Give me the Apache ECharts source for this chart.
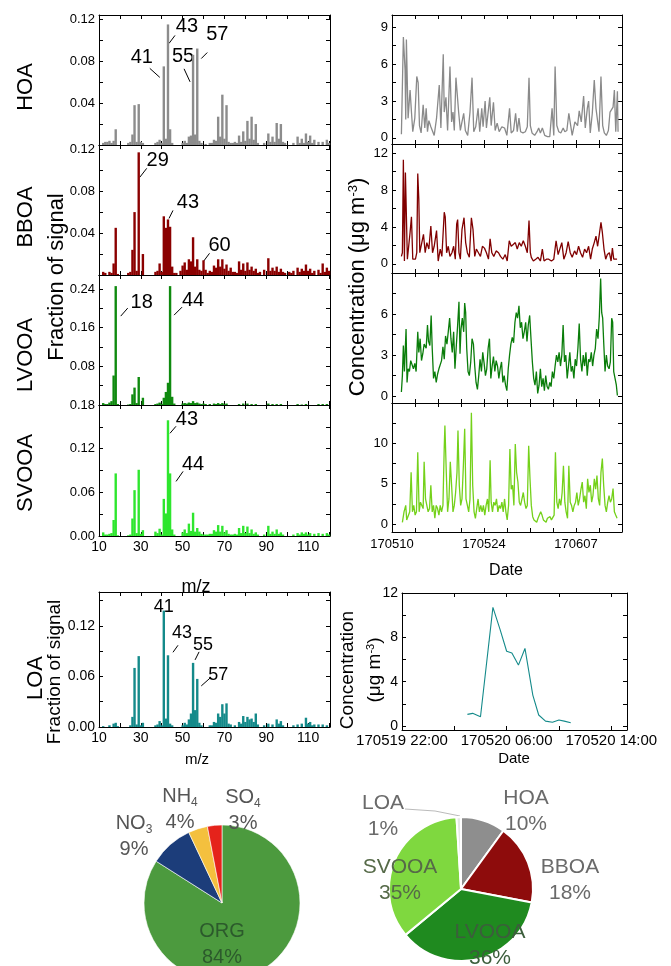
<!DOCTYPE html>
<html><head><meta charset="utf-8">
<script src="https://cdn.jsdelivr.net/npm/echarts@6/dist/echarts.min.js"></script>
<style>html,body{margin:0;padding:0;background:#fff}#c{width:671px;height:966px}</style>
</head><body><div id="c"></div>
<script>
// ---------- DATA ----------
const hoaSpec = [[12,0.002],[13,0.003],[14,0.003],[15,0.004],[16,0.002],[17,0.004],[18,0.015],[24,0.002],[25,0.003],[26,0.010],[27,0.038],[28,0.003],[29,0.039],[30,0.003],[31,0.002],[37,0.002],[38,0.003],[39,0.005],[40,0.002],[41,0.075],[42,0.006],[43,0.115],[44,0.015],[45,0.002],[50,0.002],[51,0.004],[52,0.002],[53,0.008],[54,0.009],[55,0.086],[56,0.010],[57,0.092],[58,0.004],[59,0.002],[61,0.001],[63,0.002],[64,0.002],[65,0.005],[66,0.004],[67,0.027],[68,0.008],[69,0.048],[70,0.006],[71,0.038],[72,0.003],[73,0.002],[74,0.002],[75,0.003],[76,0.002],[77,0.009],[78,0.003],[79,0.013],[80,0.004],[81,0.023],[82,0.006],[83,0.027],[84,0.005],[85,0.020],[86,0.002],[89,0.002],[91,0.011],[92,0.003],[93,0.008],[94,0.003],[95,0.021],[96,0.006],[97,0.020],[98,0.003],[99,0.002],[103,0.002],[105,0.008],[106,0.002],[107,0.006],[108,0.002],[109,0.011],[110,0.003],[111,0.009],[112,0.002],[113,0.005],[115,0.003],[117,0.003],[119,0.005],[120,0.002]];
const bboaSpec = [[12,0.003],[13,0.002],[15,0.003],[16,0.002],[17,0.011],[18,0.045],[19,0.001],[24,0.002],[25,0.003],[26,0.024],[27,0.060],[28,0.004],[29,0.117],[31,0.020],[37,0.003],[38,0.004],[39,0.011],[40,0.003],[41,0.056],[42,0.045],[43,0.053],[44,0.046],[45,0.008],[46,0.002],[47,0.002],[49,0.004],[50,0.009],[51,0.012],[52,0.005],[53,0.015],[54,0.013],[55,0.036],[56,0.008],[57,0.015],[58,0.005],[59,0.004],[60,0.014],[61,0.005],[62,0.002],[63,0.004],[64,0.003],[65,0.009],[66,0.007],[67,0.015],[68,0.008],[69,0.015],[70,0.006],[71,0.010],[72,0.004],[73,0.007],[74,0.003],[75,0.003],[76,0.002],[77,0.013],[78,0.005],[79,0.011],[80,0.004],[81,0.012],[82,0.005],[83,0.008],[84,0.004],[85,0.006],[86,0.002],[87,0.003],[89,0.005],[91,0.016],[92,0.004],[93,0.007],[94,0.004],[95,0.008],[96,0.003],[97,0.006],[98,0.003],[99,0.002],[101,0.003],[102,0.002],[103,0.004],[105,0.007],[106,0.003],[107,0.006],[108,0.004],[109,0.010],[110,0.004],[111,0.006],[112,0.002],[113,0.004],[115,0.005],[116,0.002],[117,0.011],[118,0.003],[119,0.007],[120,0.004]];
const lvooaSpec = [[12,0.004],[13,0.002],[14,0.002],[15,0.005],[16,0.008],[17,0.061],[18,0.246],[19,0.002],[24,0.001],[25,0.002],[26,0.022],[27,0.036],[28,0.004],[29,0.058],[31,0.015],[37,0.002],[38,0.003],[39,0.005],[40,0.002],[41,0.015],[42,0.027],[43,0.046],[44,0.246],[45,0.017],[46,0.003],[50,0.003],[51,0.004],[52,0.003],[53,0.005],[54,0.004],[55,0.008],[56,0.004],[57,0.005],[58,0.003],[59,0.002],[60,0.003],[61,0.002],[63,0.002],[65,0.003],[66,0.002],[67,0.004],[68,0.002],[69,0.004],[70,0.002],[71,0.003],[77,0.002],[79,0.003],[81,0.003],[83,0.002],[85,0.002],[91,0.003],[93,0.002],[95,0.002],[97,0.002],[105,0.002],[107,0.001],[109,0.002],[115,0.002],[117,0.002],[119,0.002]];
const svooaSpec = [[12,0.005],[13,0.002],[14,0.002],[15,0.003],[16,0.004],[17,0.022],[18,0.086],[19,0.001],[24,0.001],[25,0.002],[26,0.024],[27,0.063],[28,0.004],[29,0.091],[30,0.003],[31,0.008],[37,0.006],[38,0.004],[39,0.010],[40,0.002],[41,0.051],[42,0.031],[43,0.159],[44,0.086],[45,0.009],[46,0.002],[50,0.005],[51,0.009],[52,0.004],[53,0.017],[54,0.007],[55,0.032],[56,0.006],[57,0.011],[58,0.006],[59,0.003],[60,0.002],[61,0.002],[62,0.002],[63,0.003],[64,0.003],[65,0.008],[66,0.006],[67,0.015],[68,0.006],[69,0.014],[70,0.005],[71,0.008],[72,0.003],[73,0.002],[74,0.002],[75,0.003],[76,0.002],[77,0.011],[78,0.004],[79,0.014],[80,0.004],[81,0.013],[82,0.004],[83,0.009],[84,0.003],[85,0.005],[86,0.002],[89,0.002],[91,0.014],[92,0.003],[93,0.006],[94,0.003],[95,0.009],[96,0.003],[97,0.005],[98,0.002],[103,0.002],[105,0.004],[106,0.002],[107,0.005],[108,0.003],[109,0.005],[110,0.002],[111,0.004],[113,0.003],[115,0.004],[117,0.003],[119,0.004],[120,0.002]];
const loaSpec = [[12,0.001],[15,0.002],[17,0.004],[18,0.005],[19,0.001],[25,0.002],[26,0.012],[27,0.070],[28,0.003],[29,0.084],[30,0.002],[31,0.005],[37,0.002],[38,0.003],[39,0.007],[40,0.002],[41,0.138],[42,0.010],[43,0.085],[44,0.004],[45,0.002],[50,0.002],[51,0.005],[52,0.003],[53,0.009],[54,0.016],[55,0.076],[56,0.020],[57,0.057],[58,0.005],[59,0.002],[63,0.002],[64,0.002],[65,0.006],[66,0.005],[67,0.016],[68,0.012],[69,0.027],[70,0.016],[71,0.028],[72,0.004],[73,0.003],[75,0.002],[77,0.006],[78,0.004],[79,0.013],[80,0.006],[81,0.012],[82,0.009],[83,0.010],[84,0.006],[85,0.016],[86,0.003],[89,0.002],[91,0.004],[93,0.003],[95,0.009],[96,0.004],[97,0.007],[98,0.002],[103,0.002],[105,0.003],[107,0.004],[109,0.011],[110,0.004],[111,0.006],[112,0.002],[113,0.003],[115,0.003],[117,0.003],[119,0.002]];

// labelled peaks (m/z) per spectrum
const hoaPeaks = [41,43,55,57];
const bboaPeaks = [29,43,60];
const lvooaPeaks = [18,44];
const svooaPeaks = [43,44];
const loaPeaks = [41,43,55,57];

// time series: [days since 170510, ug m-3]
const hoaTs = [[1.43,0.3],[1.73,8.2],[1.99,5.5],[2.09,1.5],[2.19,8.0],[2.45,1.6],[2.75,3.9],[2.96,2.1],[3.16,0.5],[3.47,1.6],[3.77,5.0],[3.98,4.5],[4.18,1.0],[4.43,0.4],[4.74,2.7],[4.99,0.8],[5.20,2.4],[5.40,0.5],[5.61,1.4],[5.91,0.9],[6.12,1.0],[6.42,0.2],[6.78,1.6],[7.19,4.3],[7.44,0.8],[7.80,6.8],[7.95,2.1],[8.21,3.3],[8.46,0.6],[8.82,5.8],[9.07,1.3],[9.28,2.1],[9.48,0.6],[9.73,4.9],[9.94,5.0],[10.14,2.1],[10.40,0.6],[10.65,1.3],[10.91,2.0],[11.16,0.6],[11.52,0.2],[11.87,2.1],[12.18,4.9],[12.44,0.5],[12.74,0.9],[13.10,2.4],[13.35,0.5],[13.66,2.4],[13.86,0.9],[14.17,3.0],[14.37,0.8],[14.63,2.1],[14.88,3.3],[15.09,1.0],[15.44,2.9],[15.70,0.6],[16.00,1.2],[16.31,0.5],[16.72,0.9],[17.13,0.8],[17.48,0.2],[17.89,2.4],[18.14,0.4],[18.50,0.6],[18.81,2.0],[19.06,0.5],[19.32,1.6],[19.57,0.5],[19.93,0.4],[20.29,0.5],[20.59,0.9],[20.85,4.9],[21.05,1.0],[21.31,0.4],[21.71,0.2],[22.07,0.5],[22.32,0.8],[22.58,0.4],[22.88,0.8],[23.24,0.2],[23.65,0.1],[24.01,0.1],[24.36,2.4],[24.62,0.2],[24.82,5.8],[25.08,1.0],[25.38,0.5],[25.69,0.4],[26.05,0.8],[26.30,0.5],[26.61,0.6],[26.91,2.0],[27.17,2.1],[27.42,0.2],[27.83,1.3],[28.24,1.0],[28.49,2.2],[28.80,1.3],[29.16,3.4],[29.41,0.8],[29.72,2.4],[29.92,3.0],[30.17,0.4],[30.48,2.0],[30.78,4.7],[31.04,2.4],[31.29,2.5],[31.50,0.5],[31.80,5.0],[32.06,1.0],[32.31,0.4],[32.62,0.2],[32.93,0.6],[33.18,2.1],[33.43,2.2],[33.64,2.5],[33.84,3.9],[34.05,0.5],[34.30,3.8],[34.40,0.5]];
const bboaTs = [[1.43,0.8],[1.58,1.2],[1.73,11.3],[1.89,0.3],[2.04,9.9],[2.19,9.9],[2.34,0.5],[2.55,0.7],[2.75,3.4],[2.96,5.1],[3.16,0.5],[3.36,0.6],[3.57,0.5],[3.77,1.2],[3.92,9.8],[4.08,7.0],[4.23,1.2],[4.49,1.4],[4.79,3.2],[5.05,1.2],[5.30,2.3],[5.61,1.6],[5.91,4.1],[6.17,1.2],[6.42,1.9],[6.78,3.6],[7.03,0.3],[7.34,1.6],[7.59,0.8],[7.95,5.6],[8.10,5.1],[8.31,1.2],[8.56,1.9],[8.82,0.8],[9.12,1.2],[9.38,1.9],[9.63,0.5],[9.84,4.3],[9.99,4.8],[10.19,1.2],[10.40,0.5],[10.65,3.7],[10.96,5.0],[11.21,2.3],[11.47,1.2],[11.77,0.7],[12.08,5.0],[12.33,3.7],[12.59,0.8],[12.84,1.6],[13.15,1.2],[13.46,0.8],[13.76,1.9],[14.07,1.7],[14.37,1.2],[14.68,0.5],[14.93,2.7],[15.19,1.2],[15.49,0.8],[15.85,1.4],[16.21,1.2],[16.51,0.8],[16.87,0.5],[17.23,1.0],[17.53,0.3],[17.84,2.5],[18.14,1.9],[18.45,2.1],[18.76,2.3],[19.06,1.6],[19.37,2.3],[19.67,1.9],[19.98,2.5],[20.29,1.9],[20.59,1.2],[20.85,4.7],[21.05,1.2],[21.20,0.7],[21.51,0.3],[21.87,0.5],[22.22,0.7],[22.58,0.3],[22.88,1.6],[23.14,0.3],[23.50,0.5],[23.85,0.5],[24.26,0.3],[24.62,0.5],[24.97,2.5],[25.28,1.0],[25.54,0.8],[25.84,2.3],[26.15,0.5],[26.50,1.2],[26.81,2.4],[27.12,1.2],[27.42,0.7],[27.78,1.4],[28.08,1.0],[28.39,1.9],[28.69,1.2],[29.00,0.7],[29.31,1.6],[29.61,1.2],[29.92,1.9],[30.22,0.5],[30.48,1.6],[30.78,2.3],[31.04,3.0],[31.29,1.9],[31.55,3.2],[31.80,4.5],[32.01,3.4],[32.26,1.6],[32.52,0.5],[32.77,1.0],[33.08,1.2],[33.34,0.3],[33.54,1.7],[33.74,0.5],[34.00,0.7],[34.25,0.5]];
const lvooaTs = [[1.43,0.3],[1.58,1.5],[1.73,3.7],[1.89,1.8],[2.14,4.9],[2.29,1.0],[2.45,2.0],[2.65,1.8],[2.85,2.6],[3.06,2.5],[3.26,2.0],[3.47,2.4],[3.67,1.8],[3.92,4.7],[4.08,3.2],[4.28,4.2],[4.49,2.6],[4.69,3.1],[4.89,3.8],[5.20,3.5],[5.40,5.2],[5.56,4.0],[5.76,3.7],[5.96,5.9],[6.12,3.5],[6.32,1.3],[6.52,1.8],[6.73,1.0],[6.93,1.6],[7.14,2.0],[7.34,1.9],[7.54,2.6],[7.75,3.6],[7.95,2.7],[8.15,4.4],[8.36,3.8],[8.56,4.7],[8.77,5.7],[8.97,4.2],[9.17,3.2],[9.38,4.7],[9.58,2.0],[9.79,3.7],[9.99,5.2],[10.19,6.9],[10.35,3.1],[10.50,4.9],[10.70,5.7],[10.91,4.7],[11.06,6.8],[11.21,6.1],[11.37,3.5],[11.57,1.8],[11.77,1.5],[11.98,2.5],[12.18,4.2],[12.39,3.8],[12.59,2.2],[12.79,1.0],[13.00,0.5],[13.20,1.5],[13.40,2.7],[13.61,1.8],[13.81,3.2],[14.02,2.4],[14.22,1.5],[14.42,2.0],[14.63,3.5],[14.83,4.2],[15.04,1.3],[15.24,2.2],[15.44,2.9],[15.65,1.8],[15.85,2.6],[16.06,2.2],[16.26,1.3],[16.46,2.0],[16.67,2.5],[16.87,1.0],[17.07,1.5],[17.28,0.8],[17.48,0.4],[17.69,2.0],[17.89,3.0],[18.09,3.8],[18.30,4.3],[18.50,3.9],[18.71,5.4],[18.91,6.1],[19.11,5.7],[19.32,6.6],[19.52,5.0],[19.72,5.4],[19.93,4.2],[20.13,4.7],[20.34,5.4],[20.54,4.0],[20.74,5.2],[20.95,5.9],[21.15,4.2],[21.36,2.5],[21.56,1.3],[21.76,0.8],[21.97,1.8],[22.17,0.2],[22.38,0.8],[22.58,2.0],[22.78,0.7],[22.99,1.3],[23.19,0.4],[23.39,1.5],[23.60,0.7],[23.80,0.5],[24.01,1.0],[24.21,0.7],[24.41,1.8],[24.62,1.3],[24.82,2.2],[25.03,3.0],[25.23,2.5],[25.43,3.2],[25.64,2.2],[25.84,3.0],[26.04,5.2],[26.25,2.5],[26.45,3.0],[26.66,1.3],[26.86,2.2],[27.06,3.2],[27.27,1.8],[27.47,2.2],[27.68,1.3],[27.88,2.7],[28.08,2.2],[28.29,3.5],[28.49,5.3],[28.69,2.7],[28.90,1.8],[29.10,3.0],[29.31,2.2],[29.51,3.2],[29.71,1.5],[29.92,2.7],[30.12,2.5],[30.33,3.2],[30.53,2.2],[30.73,3.0],[30.94,3.5],[31.14,4.9],[31.35,4.2],[31.55,5.8],[31.75,8.6],[31.91,6.1],[32.06,5.7],[32.21,4.0],[32.42,1.8],[32.62,3.0],[32.82,2.2],[33.03,2.0],[33.23,2.5],[33.43,5.7],[33.58,5.4],[33.74,1.8],[33.94,1.3],[34.14,0.8],[34.30,0.05]];
const svooaTs = [[1.58,0.2],[1.83,1.5],[2.09,2.3],[2.24,0.5],[2.45,0.7],[2.70,1.5],[2.91,6.4],[3.11,1.5],[3.31,2.3],[3.52,1.1],[3.72,1.5],[3.92,8.9],[4.13,1.5],[4.33,2.7],[4.54,2.3],[4.74,1.9],[4.89,7.7],[5.10,3.1],[5.30,2.3],[5.50,1.5],[5.71,1.9],[5.91,4.8],[6.12,1.5],[6.32,2.3],[6.52,0.7],[6.73,2.3],[6.93,1.9],[7.14,1.1],[7.34,2.3],[7.54,1.5],[7.75,2.3],[7.95,9.5],[8.05,12.2],[8.26,6.4],[8.46,1.5],[8.67,3.1],[8.87,7.7],[9.07,4.8],[9.28,1.5],[9.48,2.3],[9.68,3.9],[9.89,6.4],[10.04,11.6],[10.24,4.8],[10.45,2.3],[10.65,3.1],[10.86,7.2],[11.06,11.8],[11.26,3.1],[11.47,2.3],[11.67,1.5],[11.87,3.1],[12.08,13.8],[12.28,4.8],[12.49,1.5],[12.69,0.7],[12.89,1.9],[13.10,3.1],[13.30,1.5],[13.51,2.3],[13.71,1.5],[13.91,2.3],[14.12,1.1],[14.32,2.3],[14.53,3.1],[14.73,1.5],[14.93,7.9],[15.09,2.7],[15.29,1.5],[15.49,2.7],[15.70,2.3],[15.90,3.1],[16.11,1.5],[16.31,2.3],[16.51,1.9],[16.72,2.7],[16.92,1.5],[17.13,3.1],[17.33,1.5],[17.53,0.5],[17.74,2.3],[17.94,9.3],[18.14,4.3],[18.35,4.8],[18.55,2.3],[18.76,9.9],[18.96,6.4],[19.16,5.2],[19.37,2.7],[19.57,2.3],[19.78,2.3],[19.98,3.9],[20.18,2.7],[20.39,1.9],[20.59,2.3],[20.80,9.7],[21.00,5.6],[21.20,2.3],[21.41,0.9],[21.61,0.5],[21.81,0.7],[22.02,0.2],[22.22,0.7],[22.43,0.5],[22.63,1.5],[22.83,1.1],[23.04,0.5],[23.24,0.7],[23.45,0.2],[23.65,0.7],[23.85,0.5],[24.06,0.9],[24.26,0.5],[24.46,0.7],[24.67,1.1],[24.87,8.9],[25.08,2.7],[25.28,1.9],[25.48,3.1],[25.69,2.3],[25.89,3.9],[26.09,7.2],[26.30,2.7],[26.50,1.5],[26.71,0.7],[26.91,7.2],[27.12,2.7],[27.32,2.3],[27.52,1.5],[27.73,2.3],[27.93,2.7],[28.13,3.9],[28.34,2.3],[28.54,3.1],[28.75,4.3],[28.95,5.2],[29.16,2.7],[29.36,3.5],[29.57,1.9],[29.77,5.6],[29.97,3.9],[30.18,4.8],[30.38,2.7],[30.58,3.5],[30.79,5.6],[30.99,4.3],[31.19,6.0],[31.40,3.1],[31.60,2.3],[31.80,6.4],[32.01,8.1],[32.21,4.8],[32.42,2.3],[32.62,1.5],[32.83,2.7],[33.03,3.5],[33.23,2.7],[33.43,3.1],[33.64,4.4],[33.84,1.5],[34.04,1.1],[34.25,0.7]];
// LOA: [hours since 170519 22:00, ug m-3]
const loaTs = [[5.0,1.06],[5.4,1.15],[6.0,0.85],[6.95,10.7],[7.5,8.7],[8.0,6.75],[8.4,6.6],[8.9,5.5],[9.4,7.0],[10.0,2.8],[10.45,1.0],[10.97,0.45],[11.5,0.35],[12.0,0.55],[12.4,0.45],[12.9,0.3]];

// pies
const inorgNames = ['ORG','NO3','NH4','SO4'];
const inorgPct = [84, 9, 4, 3];
const oaNames = ['HOA','BBOA','LVOOA','SVOOA','LOA'];
const oaPct = [10, 18, 36, 35, 1];

// tick values / labels
const specXTicks = [10,20,30,40,50,60,70,80,90,100,110,120];
const specXLabels = [10,30,50,70,90,110];
const tsDayTicks = [0,3.5,7,10.5,14,17.5,21,24.5,28,31.5,35];
const tsDayLabelVals = [0,14,28];
const tsDayLabelText = ['170510','170524','170607'];
const loaHourTicks = [0,4,8,12,16];
const loaHourLabelVals = [0,8,16];
const loaHourLabelText = ['170519 22:00','170520 06:00','170520 14:00'];

// ---------- BUILD ----------
const FONT = '"Liberation Sans", Arial, Helvetica, sans-serif';
const grids = [], xAxes = [], yAxes = [], series = [];

function axis(gi, pos, c, withLabels) {
  return {
    type: 'value', gridIndex: gi, position: pos, min: c.min, max: c.max,
    axisLine: { show: true, onZero: false, lineStyle: { color: '#000', width: 1 } },
    axisTick: { show: true, inside: true, length: 4, customValues: c.ticks, lineStyle: { color: '#000', width: 1 } },
    axisLabel: { show: !!(withLabels && c.labels), customValues: c.labels || [], formatter: c.fmt,
      fontSize: c.fs || 13, color: '#000', margin: c.margin == null ? 4 : c.margin, fontFamily: FONT },
    splitLine: { show: false }
  };
}
function addPanel(box, xc, yc) {
  const gi = grids.length;
  grids.push({ left: box[0], top: box[1], width: box[2], height: box[3], show: false });
  const xi = xAxes.length, yi = yAxes.length;
  xAxes.push(axis(gi, 'bottom', xc, true), axis(gi, 'top', xc, false));
  yAxes.push(axis(gi, 'left', yc, true), axis(gi, 'right', yc, false));
  return { xi, yi };
}
const f2 = v => v.toFixed(2);

// annotation offsets (px relative to the bar top): text dx,dy ; line x1,y1,x2,y2
const peakStyle = {
  hoa:   { 41: [-22,-9,-14,2,-4,11], 43: [19,2,7,11,1,19], 55: [-10,2,-9,14,-3,27], 57: [20,-14,10,4,4,10] },
  bboa:  { 29: [19,8,8,16,1,25], 43: [20,-17,5,-9,1,-1], 60: [16,-15,6,-7,0,1] },
  lvooa: { 18: [26,16,12,22,5,30], 44: [23,14,12,21,4,29] },
  svooa: { 43: [19,-1,8,6,2,13], 44: [23,-9,13,-2,6,8] },
  loa:   { 41: [0,-4], 43: [14,-22,10,-10,5,-3], 55: [10,-18,6,-11,2,-3], 57: [21,-4,13,-1,4,7] }
};

function addSpectrum(box, ymax, yTicks, yLabels, data, color, peaks, key, opts) {
  opts = opts || {};
  const p = addPanel(box,
    { min: 10, max: 120.5, ticks: specXTicks, labels: opts.xLabels ? specXLabels : null, fs: 14, margin: 4 },
    { min: 0, max: ymax, ticks: yTicks, labels: yLabels, fmt: f2, fs: opts.yfs || 13 });
  series.push({ type: 'bar', xAxisIndex: p.xi, yAxisIndex: p.yi, data: data, barWidth: 2.4,
    itemStyle: { color: color }, silent: true, animation: false });
  const lookup = {}; data.forEach(d => lookup[d[0]] = d[1]);
  const st = peakStyle[key];
  series.push({ type: 'custom', xAxisIndex: p.xi, yAxisIndex: p.yi, silent: true, animation: false, clip: false,
    data: peaks.map(m => [m, lookup[m]]),
    renderItem: (params, api) => {
      const m = api.value(0);
      const pt = api.coord([m, api.value(1)]);
      const s = st[m];
      const ch = [{ type: 'text', style: { text: String(m), x: pt[0] + s[0], y: pt[1] + s[1],
        align: 'center', verticalAlign: 'middle', fontSize: opts.pfs || 20, fontFamily: FONT, fill: '#000' } }];
      if (s.length > 2) ch.push({ type: 'line', shape: { x1: pt[0] + s[2], y1: pt[1] + s[3], x2: pt[0] + s[4], y2: pt[1] + s[5] },
        style: { stroke: '#000', lineWidth: 1 } });
      return { type: 'group', children: ch };
    } });
}

addSpectrum([99,15,231,130], 0.124, [0,0.02,0.04,0.06,0.08,0.1,0.12], [0.04,0.08,0.12], hoaSpec, '#8c8c8c', hoaPeaks, 'hoa');
addSpectrum([99,145,231,130], 0.124, [0,0.02,0.04,0.06,0.08,0.1,0.12], [0.04,0.08,0.12], bboaSpec, '#8b0000', bboaPeaks, 'bboa');
addSpectrum([99,275,231,130], 0.269, [0,0.04,0.08,0.12,0.16,0.2,0.24], [0.08,0.16,0.24], lvooaSpec, '#0f8a0f', lvooaPeaks, 'lvooa');
addSpectrum([99,405,231,131], 0.18, [0,0.03,0.06,0.09,0.12,0.15,0.18], [0,0.06,0.12,0.18], svooaSpec, '#2ee62e', svooaPeaks, 'svooa', { xLabels: true });
addSpectrum([99,592,231,135], 0.16, [0,0.03,0.06,0.09,0.12,0.15], [0,0.06,0.12], loaSpec, '#148a8a', loaPeaks, 'loa', { xLabels: true, yfs: 14, pfs: 18 });

function addTs(box, ymin, ymax, yTicks, yLabels, data, color, xLabels) {
  const p = addPanel(box,
    { min: 0, max: 35, ticks: tsDayTicks, labels: xLabels ? tsDayLabelVals : null,
      fmt: v => tsDayLabelText[tsDayLabelVals.indexOf(v)], fs: 13, margin: 6 },
    { min: ymin, max: ymax, ticks: yTicks, labels: yLabels, fmt: v => String(v), fs: 13 });
  series.push({ type: 'line', xAxisIndex: p.xi, yAxisIndex: p.yi, data: data, showSymbol: false, symbol: 'none',
    lineStyle: { color: color, width: 1.3 }, silent: true, animation: false });
}
addTs([392,15,230,129], -0.5, 10, [0,1.5,3,4.5,6,7.5,9], [0,3,6,9], hoaTs, '#8a8a8a');
addTs([392,144,230,129], -1, 13, [0,2,4,6,8,10,12], [0,4,8,12], bboaTs, '#800000');
addTs([392,273,230,130], -0.5, 9, [0,1.5,3,4.5,6,7.5], [0,3,6], lvooaTs, '#0a7d0a');
addTs([392,403,230,129], -1, 15, [0,2.5,5,7.5,10,12.5], [0,5,10], svooaTs, '#74d11a', true);

(function () {
  const p = addPanel([402,593,225,137],
    { min: 0, max: 17.2, ticks: loaHourTicks, labels: loaHourLabelVals,
      fmt: v => loaHourLabelText[loaHourLabelVals.indexOf(v)], fs: 15, margin: 3 },
    { min: -0.35, max: 12, ticks: [0,2,4,6,8,10,12], labels: [0,4,8,12], fmt: v => String(v), fs: 14 });
  series.push({ type: 'line', xAxisIndex: p.xi, yAxisIndex: p.yi, data: loaTs, showSymbol: false, symbol: 'none',
    lineStyle: { color: '#148a8a', width: 1.1 }, silent: true, animation: false });
})();

// pies
const inorgColors = ['#4c9a3e', '#1c3d7a', '#f4c03e', '#e5231b'];
const inorgLabelPos = [[222,944],[134,836],[180,809],[243,810]];
const inorgLabelColor = ['#2c5a2c', '#555', '#555', '#555'];
const subName = n => n.replace(/(\d)/, '{s|$1}');
series.push({
  type: 'pie', center: [222, 903], radius: 78, startAngle: 90, clockwise: true, avoidLabelOverlap: false,
  silent: true, animation: false,
  data: inorgNames.map((n, i) => ({ name: n, value: inorgPct[i], itemStyle: { color: inorgColors[i] },
    label: { color: inorgLabelColor[i] } })),
  itemStyle: { borderColor: '#fff', borderWidth: 0.6 },
  label: { show: true, position: 'outside', formatter: p => '{n|' + subName(p.name).replace(/\{s\|(\d)\}/, '}{s|$1}{n|') + '}\n{n|' + p.value + '%}',
    lineHeight: 26, fontFamily: FONT,
    rich: { n: { fontSize: 20, fontFamily: FONT, lineHeight: 26 }, s: { fontSize: 12, fontFamily: FONT, verticalAlign: 'bottom', lineHeight: 20 } } },
  labelLine: { show: false },
  labelLayout: p => ({ x: inorgLabelPos[p.dataIndex][0], y: inorgLabelPos[p.dataIndex][1], align: 'center', verticalAlign: 'middle' })
});

const oaColors = ['#8e8e8e', '#8e0c0c', '#1f8a1f', '#7fd83f', '#e4e8e4'];
const oaLabelPos = [[526,811],[570,880],[490,945],[400,880],[383,816]];
const oaLabelColor = ['#6a6a6a', '#6a6a6a', '#3c5e3c', '#566a48', '#6a6a6a'];
series.push({
  type: 'pie', center: [461, 889], radius: 72, startAngle: 90, clockwise: true, avoidLabelOverlap: false,
  silent: true, animation: false,
  data: oaNames.map((n, i) => ({ name: n, value: oaPct[i], itemStyle: { color: oaColors[i] },
    label: { color: oaLabelColor[i] }, labelLine: { show: i === 4, lineStyle: { color: '#bbb', width: 1 } } })),
  itemStyle: { borderColor: '#fff', borderWidth: 2 },
  label: { show: true, position: 'outside', formatter: '{b}\n{c}%', fontSize: 21, lineHeight: 26, fontFamily: FONT },
  labelLine: { show: false },
  labelLayout: p => {
    const o = { x: oaLabelPos[p.dataIndex][0], y: oaLabelPos[p.dataIndex][1], align: 'center', verticalAlign: 'middle' };
    if (p.dataIndex === 4) o.labelLinePoints = [[405, 809], [435, 811], [460, 816]];
    return o;
  }
});

// axis titles
function vtext(x, y, text, size, rich) {
  return { type: 'text', x: x, y: y, rotation: Math.PI / 2, silent: true,
    style: { text: text, x: 0, y: 0, align: 'center', verticalAlign: 'middle', fontSize: size, fontFamily: FONT, fill: '#000', rich: rich } };
}
function htext(x, y, text, size) {
  return { type: 'text', x: x, y: y, silent: true,
    style: { text: text, x: 0, y: 0, align: 'center', verticalAlign: 'middle', fontSize: size, fontFamily: FONT, fill: '#000' } };
}
const supRich = s => ({ a: { fontSize: s, fontFamily: FONT }, p: { fontSize: Math.round(s * 0.6), fontFamily: FONT, verticalAlign: 'top' } });
const graphics = [
  vtext(26, 87, 'HOA', 22), vtext(26, 217, 'BBOA', 22), vtext(26, 355, 'LVOOA', 22), vtext(26, 473, 'SVOOA', 22),
  vtext(57, 277, 'Fraction of signal', 22),
  htext(196, 587, 'm/z', 18),
  vtext(358, 287, '{a|Concentration (μg m}{p|-3}{a|)}', 22, supRich(22)),
  htext(506, 571, 'Date', 16),
  vtext(36, 678, 'LOA', 22), vtext(55, 672, 'Fraction of signal', 19),
  htext(197, 760, 'm/z', 15),
  vtext(348, 670, 'Concentration', 19),
  vtext(375, 670, '{a|(μg m}{p|-3}{a|)}', 19, supRich(19)),
  htext(514, 759, 'Date', 15)
];

const chart = echarts.init(document.getElementById('c'), null, { renderer: 'canvas' });
chart.setOption({
  animation: false,
  backgroundColor: '#fff',
  textStyle: { fontFamily: FONT },
  grid: grids, xAxis: xAxes, yAxis: yAxes, series: series, graphic: graphics
});
</script></body></html>
